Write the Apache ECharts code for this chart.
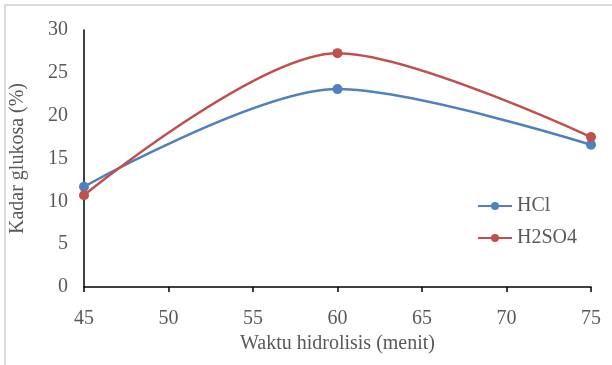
<!DOCTYPE html>
<html>
<head>
<meta charset="utf-8">
<script src="https://cdn.jsdelivr.net/npm/echarts@6/dist/echarts.min.js"></script>
<style>
  html, body { margin: 0; padding: 0; background: #fff; }
  #frame { position: absolute; left: 4px; top: 4px; width: 620px; height: 380px;
           border-left: 2px solid #dcdcdc; border-top: 2px solid #dcdcdc; }
  #chart { position: absolute; left: 0; top: 0; width: 612px; height: 365px; }
</style>
</head>
<body>
<div id="frame"></div>
<div id="chart"></div>
<script>
// waktu hidrolisis (menit)
const waktu = [45, 60, 75];
// kadar glukosa (%)
const hcl = [11.7, 23.1, 16.6];
const h2so4 = [10.7, 27.3, 17.5];
const seriesNames = ['HCl', 'H2SO4'];
const colors = ['#4f81bd', '#c0504d'];

const chart = echarts.init(document.getElementById('chart'));
const font = 'Liberation Serif';
const grey = '#595959';

function pairs(ys) {
  return waktu.map((x, i) => [x, ys[i]]);
}

const option = {
  animation: false,
  textStyle: { fontFamily: font },
  grid: { left: 84, right: 21, top: 30, bottom: 78 },
  legend: {
    orient: 'vertical',
    left: 477,
    top: 196,
    padding: 0,
    itemGap: 12,
    itemWidth: 34,
    itemHeight: 10,
    textStyle: { fontFamily: font, fontSize: 20, color: grey },
    data: seriesNames
  },
  xAxis: {
    type: 'value',
    min: 45, max: 75, interval: 5,
    name: 'Waktu hidrolisis (menit)',
    nameLocation: 'middle',
    nameGap: 46,
    nameTextStyle: { fontFamily: font, fontSize: 20, color: grey },
    axisLine: { lineStyle: { color: '#000', width: 1.5 } },
    axisTick: { show: true, length: 5, lineStyle: { color: '#000', width: 1.5 } },
    axisLabel: { fontFamily: font, fontSize: 20, color: grey, margin: 22 },
    splitLine: { show: false }
  },
  yAxis: {
    type: 'value',
    min: 0, max: 30, interval: 5,
    name: 'Kadar glukosa (%)',
    nameLocation: 'middle',
    nameGap: 56,
    nameTextStyle: { fontFamily: font, fontSize: 20, color: grey },
    axisLine: { show: true, lineStyle: { color: '#000', width: 1.5 } },
    axisTick: { show: false },
    axisLabel: { fontFamily: font, fontSize: 20, color: grey, margin: 16 },
    splitLine: { show: false }
  },
  series: [
    {
      name: seriesNames[0], type: 'line', smooth: 0.3,
      data: pairs(hcl), symbol: 'circle', symbolSize: 10,
      itemStyle: { color: colors[0] },
      lineStyle: { color: colors[0], width: 2.5 }
    },
    {
      name: seriesNames[1], type: 'line', smooth: 0.3,
      data: pairs(h2so4), symbol: 'circle', symbolSize: 10,
      itemStyle: { color: colors[1] },
      lineStyle: { color: colors[1], width: 2.5 }
    }
  ]
};
chart.setOption(option);
</script>
</body>
</html>
